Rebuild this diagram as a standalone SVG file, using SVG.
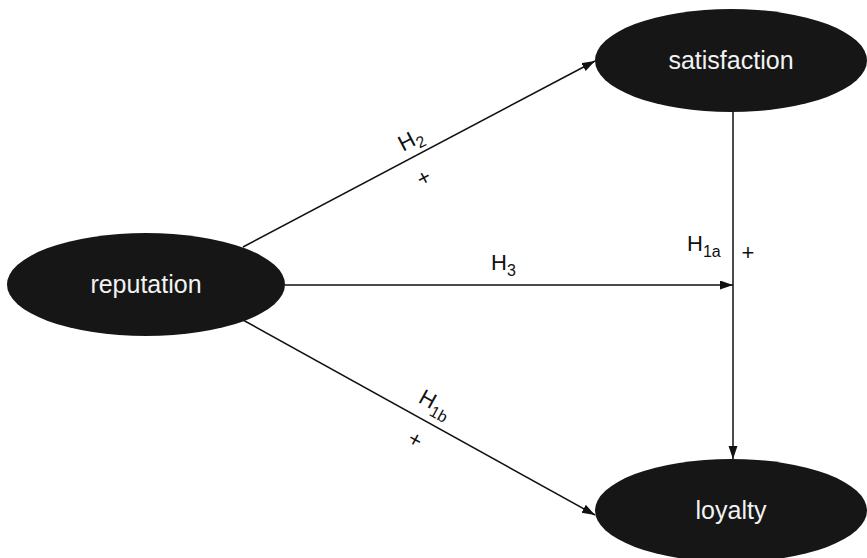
<svg xmlns="http://www.w3.org/2000/svg" width="867" height="558" viewBox="0 0 867 558">
  <defs>
    <marker id="arrow" markerUnits="userSpaceOnUse" markerWidth="14" markerHeight="10" refX="13" refY="4.5" orient="auto">
      <path d="M0,0 L13,4.5 L0,9 z" fill="#111"/>
    </marker>
    <style>
      .node ellipse { fill: #161616; }
      .node text { fill: #f2f2f2; font-family: "Liberation Sans", Arial, sans-serif; font-size: 25px; text-anchor: middle; }
      .edge { stroke: #111; stroke-width: 1.5; fill: none; marker-end: url(#arrow); }
      .lbl { fill: #111; font-family: "Liberation Sans", Arial, sans-serif; font-size: 22px; }
      .sub { font-size: 16px; }
      .plus { fill: #111; font-family: "Liberation Sans", Arial, sans-serif; font-size: 22px; text-anchor: middle; }
    </style>
  </defs>
  <rect width="867" height="558" fill="#ffffff"/>

  <g id="connectors">
    <line class="edge" x1="243" y1="247" x2="595" y2="61"/>
    <line class="edge" x1="285" y1="285" x2="733" y2="285"/>
    <line class="edge" x1="243" y1="320" x2="595" y2="515"/>
    <line class="edge" x1="733" y1="112" x2="733" y2="459"/>
  </g>

  <g id="labels">
    <text class="lbl" transform="translate(414,146) rotate(-27.7)" text-anchor="middle">H<tspan class="sub" dy="5">2</tspan></text>
    <text class="plus" transform="translate(424,178) rotate(-27.7)" y="7">+</text>
    <text class="lbl" x="491" y="270">H<tspan class="sub" dy="6">3</tspan></text>
    <text class="lbl" x="687" y="251">H<tspan class="sub" dy="6">1a</tspan></text>
    <text class="plus" x="748" y="260">+</text>
    <text class="lbl" transform="translate(432,410) rotate(29)" text-anchor="middle">H<tspan class="sub" dy="6">1b</tspan></text>
    <text class="plus" transform="translate(415,440) rotate(29)" y="7">+</text>
  </g>

  <g id="reputation" class="node">
    <ellipse cx="146" cy="284.5" rx="139" ry="51.5"/>
    <text x="146" y="293">reputation</text>
  </g>
  <g id="satisfaction" class="node">
    <ellipse cx="731" cy="60.5" rx="136" ry="51.5"/>
    <text x="731" y="69">satisfaction</text>
  </g>
  <g id="loyalty" class="node">
    <ellipse cx="731" cy="510.5" rx="136" ry="51.5"/>
    <text x="731" y="519">loyalty</text>
  </g>
</svg>
